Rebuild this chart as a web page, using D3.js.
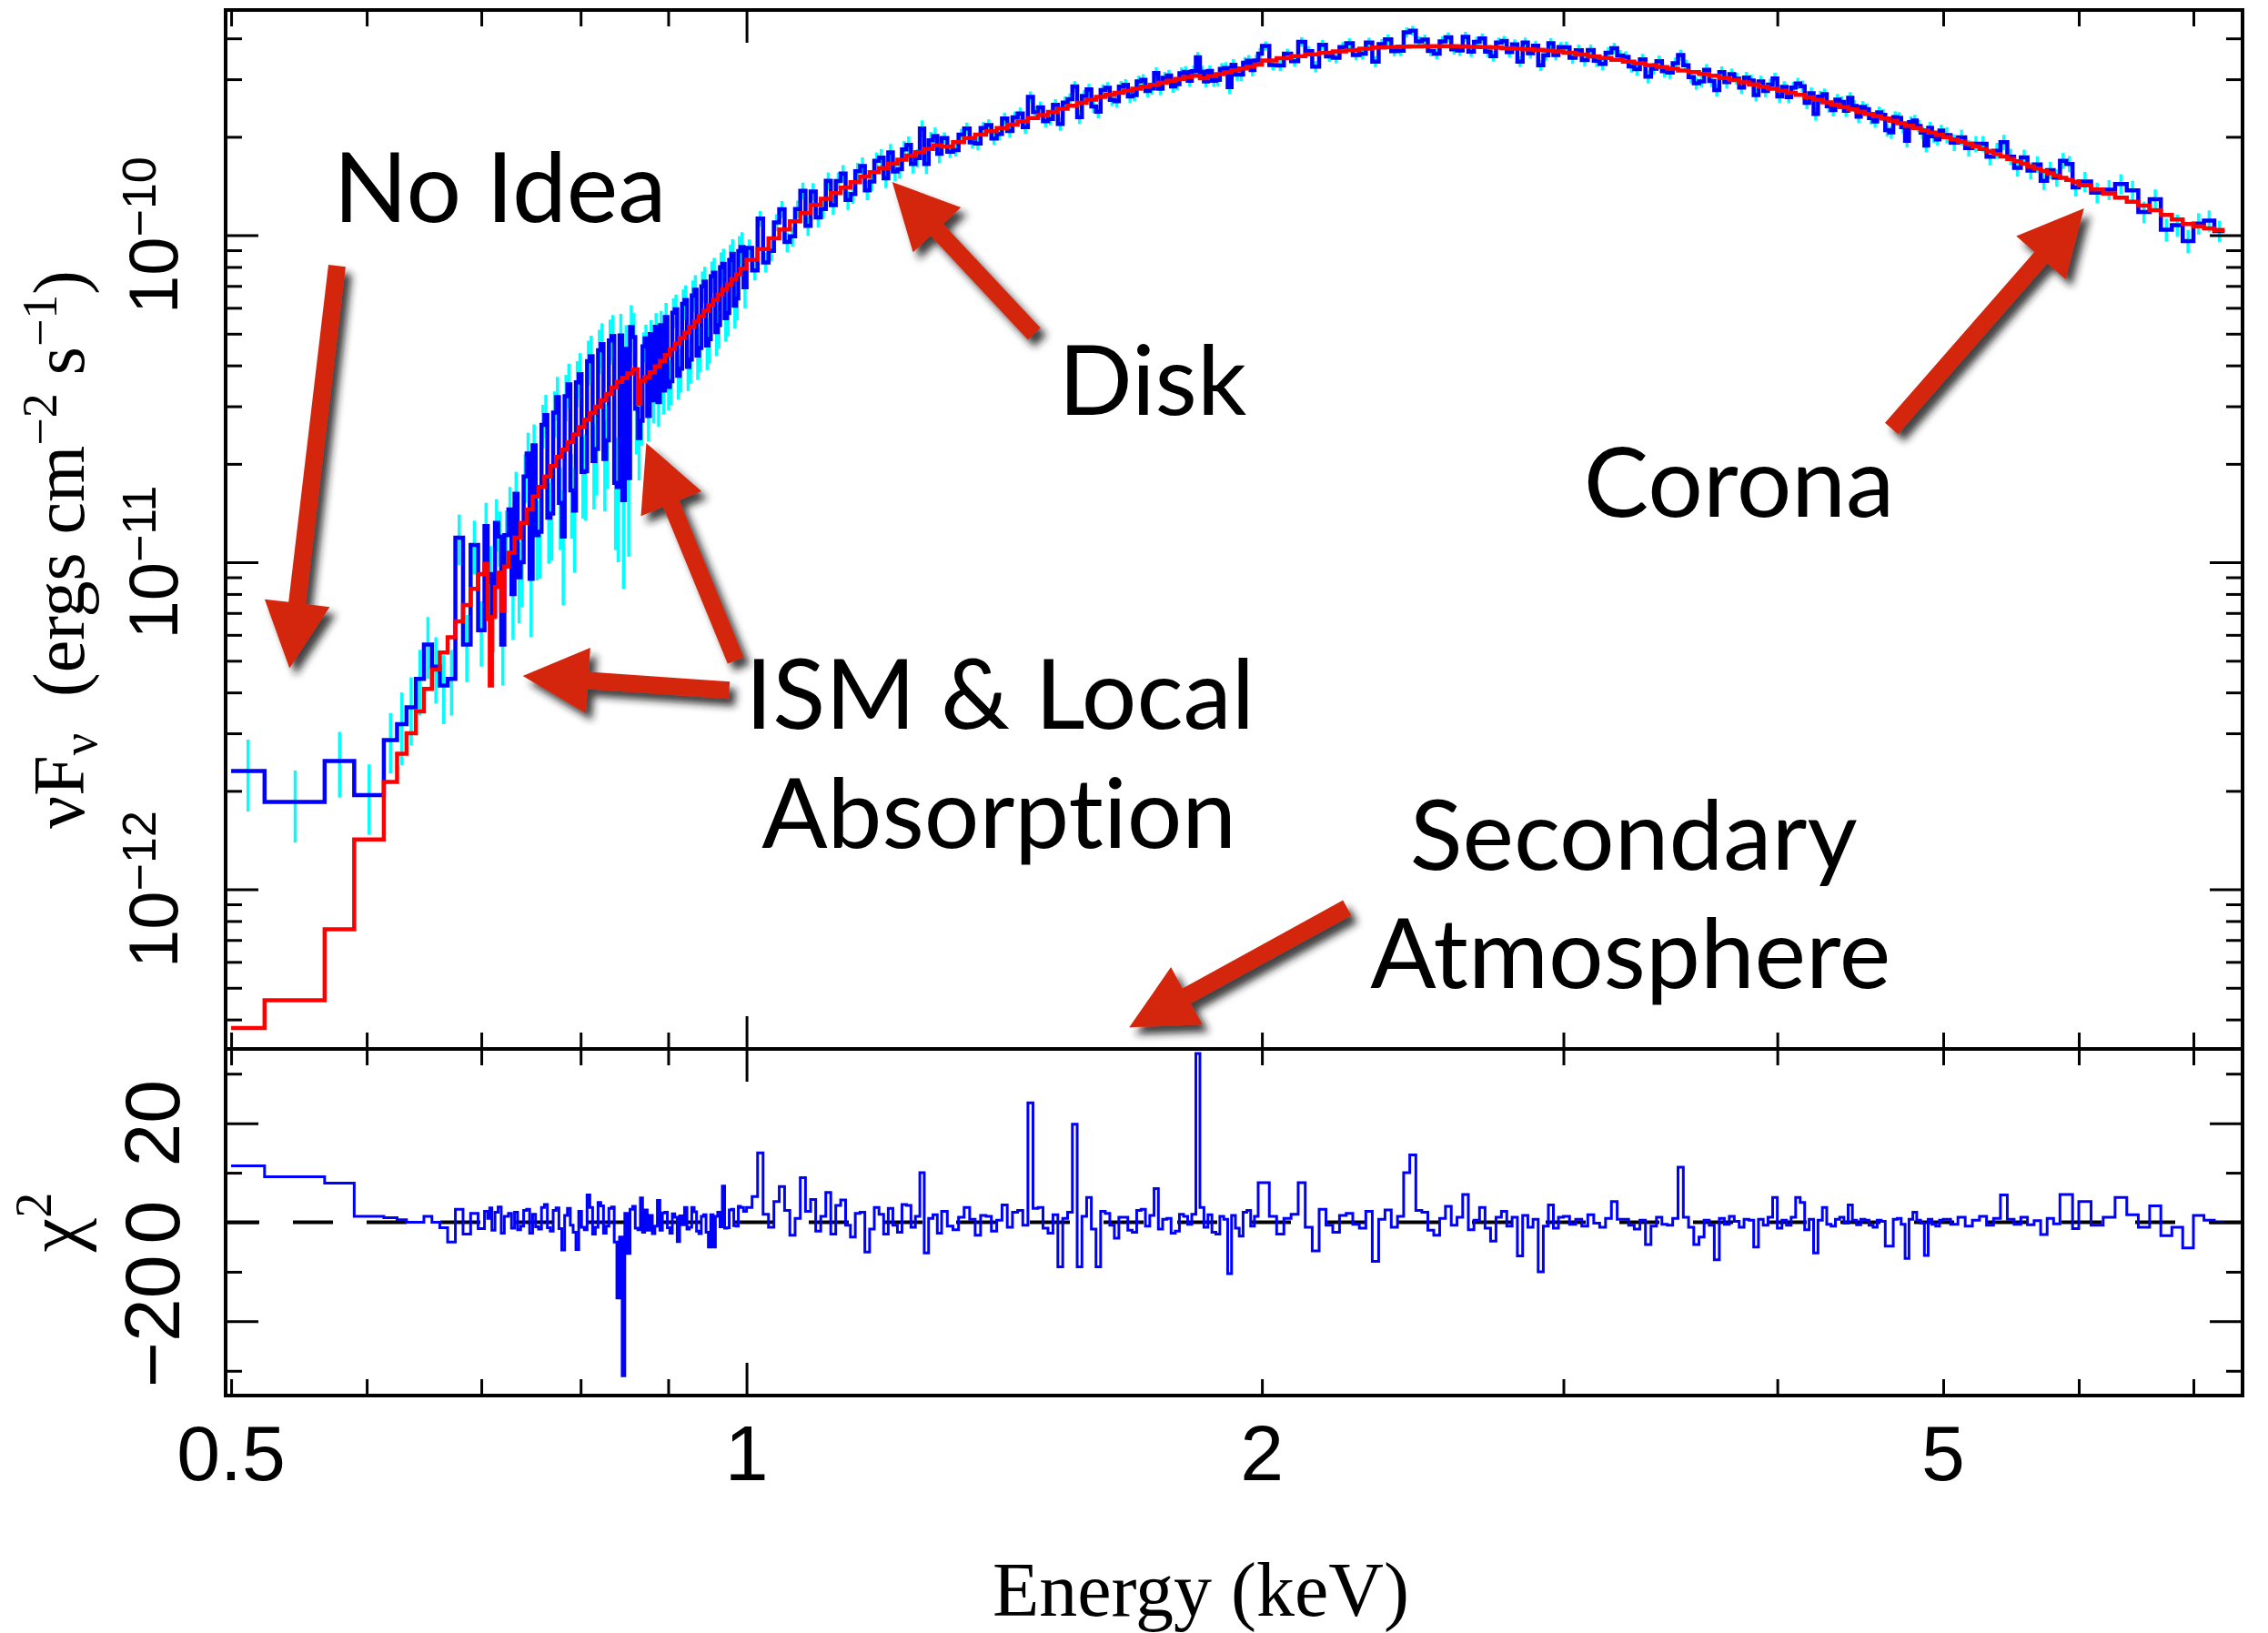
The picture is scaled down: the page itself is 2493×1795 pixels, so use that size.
<!DOCTYPE html>
<html>
<head>
<meta charset="utf-8">
<script src="https://cdn.jsdelivr.net/npm/d3@7"></script>
<style>
  html, body { margin: 0; padding: 0; background: #ffffff; }
  svg { display: block; }
</style>
</head>
<body>
<svg id="chart" width="2493" height="1795"></svg>
<script>
// ---------------------------------------------------------------------------
// Unfolded X-ray spectrum (nuFnu) with best-fit model and chi residuals.
// Flux values are in units of 1e-12 ergs cm^-2 s^-1, energies in keV.
// ---------------------------------------------------------------------------
const FLUX_UNIT = 1e-12;

// Model grid boundaries (keV)
const modelEdges = [
  0.500, 0.523, 0.567, 0.590, 0.614, 0.625,
  0.633, 0.641, 0.648, 0.655, 0.662, 0.669, 0.676, 0.683, 0.690, 0.697,
  0.703, 0.706, 0.708, 0.710, 0.713, 0.716, 0.719, 0.722, 0.726,
  0.732, 0.738, 0.744, 0.750, 0.756, 0.762, 0.768, 0.774, 0.780, 0.786,
  0.792, 0.798, 0.804, 0.810, 0.816, 0.822, 0.828, 0.834, 0.840, 0.846,
  0.852, 0.858, 0.864, 0.867, 0.872, 0.878, 0.884, 0.890, 0.896, 0.902,
  0.908, 0.914, 0.920, 0.926, 0.932, 0.938, 0.944, 0.950, 0.956, 0.962,
  0.968, 0.974, 0.980, 0.986, 0.992, 1.000,
  1.015, 1.030, 1.045, 1.060, 1.075, 1.090, 1.105, 1.120, 1.135, 1.150,
  1.165, 1.180, 1.195, 1.210, 1.225, 1.240, 1.255, 1.270, 1.285, 1.300,
  1.32, 1.34, 1.36, 1.38, 1.40, 1.42, 1.44, 1.46, 1.48, 1.50,
  1.52, 1.54, 1.56, 1.58, 1.60, 1.62, 1.64, 1.66, 1.68, 1.70,
  1.72, 1.74, 1.76, 1.78, 1.80, 1.82, 1.84, 1.86, 1.88, 1.90,
  1.92, 1.94, 1.96, 1.98, 2.00,
  2.04, 2.08, 2.12, 2.16, 2.20, 2.24, 2.28, 2.32, 2.36, 2.40,
  2.44, 2.48, 2.52, 2.56, 2.60, 2.64, 2.68, 2.72, 2.76, 2.80,
  2.84, 2.88, 2.92, 2.96, 3.00,
  3.05, 3.10, 3.15, 3.20, 3.25, 3.30, 3.35, 3.40, 3.45, 3.50,
  3.55, 3.60, 3.65, 3.70, 3.75, 3.80, 3.85, 3.90, 3.95, 4.00,
  4.05, 4.10, 4.15, 4.20, 4.25, 4.30, 4.35, 4.40, 4.45, 4.50,
  4.55, 4.60, 4.65, 4.70, 4.75, 4.80, 4.85, 4.90, 4.95, 5.00,
  5.05, 5.10, 5.15, 5.20, 5.25, 5.30, 5.35, 5.40, 5.45, 5.50,
  5.55, 5.60, 5.65, 5.70, 5.75, 5.80, 5.85, 5.90, 5.95, 6.00,
  6.1, 6.2, 6.3, 6.4, 6.5, 6.6, 6.7, 6.8, 6.9, 7.0,
  7.1, 7.2, 7.3
];

// Absorbed disk + corona model on the model grid
const modelFlux = [
  0.377, 0.458, 0.755, 1.42, 2.13,
  2.6, 3.0, 3.5, 4.1, 4.7, 5.3, 5.9, 6.6, 7.4, 8.3,
  9.2, 9.9, 6.7, 4.2, 6.8, 8.4, 9.3, 7.1, 9.7,
  10.7, 11.9, 13.2, 14.5, 15.9, 17.0, 18.3, 19.7, 21.0, 22.1,
  23.3, 24.6, 25.9, 27.3, 28.6, 29.9, 31.3, 32.7, 34.2, 35.6,
  36.6, 37.8, 38.9, 30.5, 35.9, 36.8, 38.1, 39.7, 41.3, 43.0,
  44.8, 46.6, 48.5, 50.4, 52.5, 54.5, 56.6, 58.8, 61.1, 63.4,
  65.8, 68.2, 70.7, 73.3, 75.9, 79.1,
  84.2, 90.8, 97.8, 104.1, 110.4, 116.9, 123.8, 129.3, 134.5, 139.9,
  145.4, 151.0, 155.9, 160.6, 165.4, 170.2, 175.2, 179.5, 183.6, 188.5,
  187.0, 192.6, 198.2, 203.0, 207.9, 212.9, 217.9, 223.0, 228.1, 233.2,
  238.4, 243.7, 249.0, 254.3, 259.7, 264.8, 268.8, 272.7, 276.7, 280.7,
  284.7, 288.6, 292.6, 296.7, 300.7, 304.7, 307.5, 302.1, 306.4, 310.7,
  315.0, 319.4, 323.7, 328.0, 332.4,
  342.5, 348.0, 353.0, 357.5, 361.5, 365.0, 368.5, 372.0, 375.0, 376.5,
  377.5, 378.0, 378.5, 378.5, 378.5, 378.0, 377.0, 376.0, 375.0, 373.5,
  372.0, 370.5, 369.0, 367.0, 365.0,
  361.6, 357.0, 352.5, 348.2, 343.9, 339.7, 335.3, 331.1, 327.0, 323.0,
  319.1, 315.3, 311.6, 307.5, 302.7, 298.1, 293.5, 289.1, 284.9, 280.7,
  276.6, 272.7, 268.6, 264.0, 259.4, 255.1, 250.8, 246.7, 242.7, 238.8,
  235.0, 231.3, 227.6, 223.8, 220.0, 216.3, 212.8, 209.3, 206.0, 202.7,
  199.5, 196.4, 193.4, 190.4, 187.1, 183.7, 180.5, 177.3, 174.2, 171.2,
  168.3, 165.4, 162.6, 159.9, 157.3, 154.7, 152.2, 149.9, 147.6, 145.4,
  142.2, 138.1, 134.1, 130.3, 126.7, 123.3, 119.3, 115.4, 111.7, 108.2,
  106.5, 105.0, 103.8
];

// Data channel boundaries (keV)
const dataEdges = [
  0.500, 0.523, 0.567, 0.590, 0.614, 0.625,
  0.633, 0.641, 0.648, 0.655, 0.662, 0.669, 0.676, 0.683, 0.690, 0.697,
  0.703, 0.706, 0.708, 0.710, 0.713, 0.716, 0.719, 0.722, 0.726,
  0.729, 0.732, 0.735, 0.738, 0.741, 0.744, 0.747, 0.750, 0.753, 0.756,
  0.759, 0.762, 0.765, 0.768, 0.771, 0.774, 0.777, 0.780, 0.783, 0.786,
  0.789, 0.792, 0.795, 0.798, 0.801, 0.804, 0.807, 0.810, 0.813, 0.816,
  0.819, 0.822, 0.825, 0.828, 0.831, 0.834, 0.837, 0.840, 0.843, 0.846,
  0.849, 0.852, 0.855, 0.858, 0.861, 0.864,
  0.867, 0.8695, 0.872,
  0.875, 0.878, 0.881, 0.884, 0.887, 0.890, 0.893, 0.896, 0.899, 0.902,
  0.905, 0.908, 0.911, 0.914, 0.917, 0.920, 0.923, 0.926, 0.929, 0.932,
  0.935, 0.938, 0.941, 0.944, 0.947, 0.950, 0.953, 0.956, 0.959, 0.962,
  0.965, 0.968, 0.971, 0.974, 0.977, 0.980, 0.983, 0.986, 0.989, 0.992,
  0.996, 1.000,
  1.0075, 1.015, 1.0225, 1.030, 1.0375, 1.045, 1.0525, 1.060, 1.0675, 1.075,
  1.0825, 1.090, 1.0975, 1.105, 1.1125, 1.120, 1.1275, 1.135, 1.1425, 1.150,
  1.1575, 1.165, 1.1725, 1.180, 1.1875, 1.195, 1.2025, 1.210, 1.2175, 1.225,
  1.2325, 1.240, 1.2475, 1.255, 1.2625, 1.270, 1.2775, 1.285, 1.2925, 1.300,
  1.31, 1.32, 1.33, 1.34, 1.35, 1.36, 1.37, 1.38, 1.39, 1.40,
  1.41, 1.42, 1.43, 1.44, 1.45, 1.46, 1.47, 1.48, 1.49, 1.50,
  1.51, 1.52, 1.53, 1.54, 1.55, 1.56, 1.57, 1.58, 1.59, 1.60,
  1.61, 1.62, 1.63, 1.64, 1.65, 1.66, 1.67, 1.68, 1.69, 1.70,
  1.71, 1.72, 1.73, 1.74, 1.75, 1.76, 1.77, 1.78, 1.79, 1.80,
  1.81, 1.82, 1.83, 1.84, 1.85, 1.86, 1.87, 1.88, 1.89, 1.90,
  1.91, 1.92, 1.93, 1.94, 1.95, 1.96, 1.97, 1.98, 1.99, 2.00,
  2.02, 2.04, 2.06, 2.08, 2.10, 2.12, 2.14, 2.16, 2.18, 2.20,
  2.22, 2.24, 2.26, 2.28, 2.30, 2.32, 2.34, 2.36, 2.38, 2.40,
  2.42, 2.44, 2.46, 2.48, 2.50, 2.52, 2.54, 2.56, 2.58, 2.60,
  2.62, 2.64, 2.66, 2.68, 2.70, 2.72, 2.74, 2.76, 2.78, 2.80,
  2.82, 2.84, 2.86, 2.88, 2.90, 2.92, 2.94, 2.96, 2.98, 3.00,
  3.025, 3.050, 3.075, 3.100, 3.125, 3.150, 3.175, 3.200, 3.225, 3.250,
  3.275, 3.300, 3.325, 3.350, 3.375, 3.400, 3.425, 3.450, 3.475, 3.500,
  3.525, 3.550, 3.575, 3.600, 3.625, 3.650, 3.675, 3.700, 3.725, 3.750,
  3.775, 3.800, 3.825, 3.850, 3.875, 3.900, 3.925, 3.950, 3.975, 4.000,
  4.025, 4.050, 4.075, 4.100, 4.125, 4.150, 4.175, 4.200, 4.225, 4.250,
  4.275, 4.300, 4.325, 4.350, 4.375, 4.400, 4.425, 4.450, 4.475, 4.500,
  4.525, 4.550, 4.575, 4.600, 4.625, 4.650, 4.675, 4.700, 4.725, 4.750,
  4.775, 4.800, 4.825, 4.850, 4.875, 4.900, 4.925, 4.950, 4.975, 5.000,
  5.05, 5.10, 5.15, 5.20, 5.25, 5.30, 5.35, 5.40, 5.45, 5.50,
  5.55, 5.60, 5.65, 5.70, 5.75, 5.80, 5.85, 5.90, 5.95, 6.00,
  6.1, 6.2, 6.3, 6.4, 6.5, 6.6, 6.7, 6.8, 6.9, 7.0,
  7.1, 7.2, 7.3
];

// Unfolded data per data channel
const dataFlux = [
  2.30, 1.85, 2.47, 1.94, 2.86,
  3.2, 3.6, 4.4, 5.6, 4.8, 4.2, 4.4, 11.9, 5.6, 11.3,
  6.2, 12.9, 8.7, 9.2, 6.9, 13.2, 12.0, 5.6, 12.1,
  14.5, 8.0, 16.2, 9.0, 10.0, 18.3, 21.5, 8.9, 22.8, 12.1,
  12.4, 26.3, 28.2, 13.7, 14.1, 28.7, 32.0, 15.2, 12.0, 32.2,
  35.0, 16.6, 14.4, 35.5, 37.6, 18.9, 19.0, 41.2, 42.7, 20.4,
  22.2, 44.5, 46.5, 20.7, 23.6, 47.7, 49.2, 17.5, 17.0, 49.4,
  15.5, 44.9, 18.1, 52.4, 48.8, 29.5,
  24.0, 27.1, 45.7,
  48.4, 28.0, 49.9, 31.3, 52.5, 30.9, 53.1, 33.5, 56.2, 34.4,
  35.8, 58.0, 59.4, 37.2, 39.1, 61.7, 63.4, 39.6, 41.7, 65.5,
  68.1, 42.9, 45.2, 69.8, 72.2, 46.0, 48.1, 74.9, 76.8, 50.6,
  53.2, 79.8, 81.8, 55.8, 57.9, 84.1, 87.7, 60.9, 64.1, 89.5,
  92.1, 69.3,
  91.5, 78.1, 112.4, 82.6, 89.6, 109.4, 120.1, 95.4, 99.2, 120.3,
  136.8, 106.9, 136.0, 113.3, 120.3, 146.8, 123.6, 146.6, 154.5, 128.2,
  133.8, 157.0, 162.9, 137.2, 146.0, 168.8, 172.8, 149.4, 179.2, 156.7,
  159.3, 183.1, 189.0, 165.3, 172.2, 212.0, 165.2, 195.2, 201.1, 177.6,
  198.2, 180.0, 182.2, 203.0, 212.2, 192.4, 190.8, 212.9, 217.1, 197.5,
  204.1, 227.5, 208.2, 229.2, 235.8, 214.0, 265.0, 237.8, 246.3, 223.1,
  226.9, 250.3, 219.0, 254.7, 260.9, 285.0, 229.6, 266.7, 279.1, 247.6,
  238.9, 277.8, 282.3, 259.6, 257.0, 284.6, 288.2, 265.7, 268.3, 295.5,
  298.7, 276.2, 281.0, 313.6, 280.7, 303.0, 308.0, 285.0, 289.7, 312.8,
  316.0, 297.0, 317.4, 350.0, 316.7, 295.4, 317.9, 297.0, 298.5, 322.8,
  324.9, 283.9, 332.0, 310.0, 309.8, 336.8, 341.7, 319.9, 342.1, 359.4,
  379.1, 331.6, 330.2, 359.2, 340.4, 390.4, 365.8, 327.8, 382.4, 352.2,
  348.7, 376.1, 386.4, 355.8, 358.9, 388.2, 339.5, 384.2, 397.1, 365.8,
  366.5, 417.5, 422.2, 391.6, 396.4, 366.0, 359.0, 391.8, 403.2, 370.2,
  367.0, 404.5, 364.4, 390.3, 399.8, 364.1, 352.9, 388.3, 393.1, 363.3,
  383.2, 339.7, 388.4, 360.3, 379.7, 330.8, 355.1, 386.7, 355.7, 376.2,
  375.9, 349.0, 368.1, 343.4, 368.3, 341.5, 334.4, 361.3, 373.0, 354.3,
  350.9, 328.3, 321.9, 344.8, 305.4, 323.3, 340.6, 317.7, 314.2, 335.9,
  355.5, 330.8, 304.6, 291.7, 295.5, 320.6, 296.5, 277.8, 315.6, 293.9,
  310.9, 301.3, 282.8, 303.5, 297.4, 268.4, 295.3, 276.2, 288.9, 301.8,
  265.7, 284.1, 264.7, 282.7, 291.4, 285.8, 254.0, 271.7, 234.9, 265.5,
  269.9, 248.1, 241.3, 259.8, 255.7, 240.4, 263.3, 248.5, 230.6, 246.8,
  242.8, 228.2, 223.0, 237.6, 233.4, 209.6, 206.5, 229.6, 228.5, 214.1,
  194.4, 221.7, 224.2, 215.9, 206.1, 188.1, 213.1, 200.7, 196.4, 209.0,
  202.5, 192.1, 199.3, 184.7, 190.4, 190.6, 173.8, 181.4, 192.5, 173.8,
  160.8, 172.9, 157.7, 164.7, 146.7, 158.2, 150.0, 169.0, 165.3, 140.0,
  146.0, 135.0, 137.8, 143.5, 137.2, 117.8, 128.9, 104.0, 107.3, 96.0,
  108.6, 110.8, 103.0
];

// 1-sigma uncertainty per data channel
const dataErr = [
  0.57, 0.46, 0.56, 0.47, 0.60,
  0.8, 0.85, 1.0, 1.2, 1.1, 1.0, 1.0, 2.1, 1.3, 2.1,
  1.4, 2.3, 1.9, 2.0, 1.6, 2.4, 2.3, 1.4, 2.3,
  2.5, 2.2, 2.7, 2.5, 2.7, 3.1, 3.4, 3.0, 3.6, 3.3,
  3.5, 4.0, 4.3, 3.8, 4.0, 4.6, 4.9, 4.3, 4.6, 5.2,
  5.5, 4.8, 5.1, 5.7, 6.0, 5.3, 5.6, 6.4, 6.6, 5.9,
  6.2, 6.9, 7.3, 6.4, 6.8, 7.5, 7.8, 6.6, 7.0, 8.1,
  7.2, 8.2, 7.7, 8.7, 9.0, 8.1,
  6.2, 4.4, 4.8,
  4.9, 4.6, 5.1, 4.7, 5.3, 4.9, 5.6, 5.2, 5.9, 5.3,
  5.6, 6.1, 6.4, 5.7, 6.0, 6.6, 6.9, 6.2, 6.5, 7.2,
  7.4, 6.8, 7.0, 7.7, 7.9, 7.3, 7.5, 8.2, 8.5, 7.8,
  8.1, 8.8, 9.1, 8.5, 8.7, 9.4, 9.6, 9.0, 9.2, 9.9,
  10.1, 9.5,
  5.6, 5.3, 6.2, 5.7, 6.2, 6.6, 7.2, 6.5, 6.8, 7.4,
  8.1, 7.3, 8.3, 7.7, 7.9, 8.8, 8.3, 9.0, 9.4, 8.6,
  9.0, 9.6, 10.0, 9.2, 9.6, 10.4, 10.7, 9.9, 10.9, 10.3,
  10.4, 11.2, 11.6, 10.8, 11.2, 12.5, 11.1, 12.0, 12.4, 11.6,
  8.1, 7.8, 8.3, 8.5, 8.8, 8.4, 8.7, 9.1, 9.2, 8.8,
  9.1, 9.5, 9.4, 9.8, 9.9, 9.5, 10.4, 9.9, 10.2, 9.9,
  10.1, 10.5, 10.4, 10.8, 10.6, 11.2, 10.9, 11.2, 11.3, 11.1,
  11.2, 11.6, 11.6, 11.3, 11.5, 11.9, 11.9, 11.6, 11.8, 12.2,
  12.3, 11.9, 12.2, 12.6, 12.5, 12.7, 12.7, 12.5, 12.6, 13.0,
  13.0, 12.7, 13.2, 13.4, 12.9, 12.7, 13.2, 12.9, 13.0, 13.4,
  13.4, 13.2, 13.7, 13.4, 13.6, 13.9, 14.0, 13.7, 14.1, 14.4,
  12.5, 12.3, 12.6, 12.7, 12.9, 13.2, 13.0, 12.9, 13.4, 13.2,
  13.2, 13.4, 13.7, 13.3, 13.4, 13.9, 13.4, 13.7, 14.1, 13.6,
  13.7, 14.4, 14.6, 14.0, 14.1, 13.7, 13.6, 14.1, 14.3, 13.7,
  13.7, 14.4, 13.6, 14.0, 14.3, 13.6, 13.3, 13.9, 14.0, 13.4,
  13.9, 13.0, 13.9, 13.4, 13.7, 12.9, 13.2, 13.7, 13.2, 13.6,
  15.1, 14.8, 15.0, 14.7, 14.8, 14.6, 14.4, 14.7, 14.6, 14.3,
  14.3, 14.0, 13.9, 14.1, 13.7, 13.9, 13.9, 13.6, 13.4, 13.7,
  13.9, 13.4, 13.2, 13.0, 12.9, 13.2, 12.9, 12.6, 12.7, 12.6,
  12.6, 12.5, 12.3, 12.5, 12.3, 11.9, 12.2, 11.9, 11.9, 12.0,
  11.6, 11.8, 11.5, 11.6, 11.6, 11.5, 11.2, 11.3, 10.9, 11.2,
  11.1, 10.8, 10.6, 10.8, 10.6, 10.4, 10.6, 10.4, 10.2, 10.4,
  10.2, 9.9, 9.8, 9.9, 9.8, 9.5, 9.4, 9.7, 9.5, 9.4,
  9.0, 9.4, 9.2, 9.1, 9.0, 8.7, 9.0, 8.8, 8.7, 8.8,
  11.4, 11.2, 11.0, 10.8, 10.7, 10.6, 10.3, 10.2, 10.3, 10.0,
  9.7, 9.8, 9.5, 9.6, 9.1, 9.4, 9.1, 9.5, 9.4, 8.6,
  10.3, 9.8, 9.7, 10.1, 9.6, 8.9, 9.2, 8.4, 8.4, 7.9,
  8.2, 8.3, 7.8
];

// Fit residuals per data channel
const chiResid = [
  11.4, 9.2, 7.9, 1.2, 0.9,
  0.5, 0.0, 0.0, 1.2, 0.0, -1.1, -4.0, 2.6, -2.4, 1.8,
  -1.3, 2.2, 0.8, 2.9, -1.6, 2.0, 3.1, -2.2, 1.2,
  1.8, -1.2, 2.0, -1.5, -0.8, 2.4, 2.6, -2.2, 1.6, -0.9,
  -1.4, 3.0, 3.6, -1.1, -1.8, 2.4, 2.9, -1.3, -5.6, 1.4,
  2.8, -0.6, -2.0, -5.5, 2.2, -1.0, -1.5, 5.5, 3.0, -2.4,
  -1.0, 4.0, 3.3, -2.2, -0.8, 2.8, 3.1, -4.0, -15.3, -3.0,
  -31.0, 1.8, -6.3, 2.6, 3.2, -1.2,
  -1.5, 4.9, -2.0,
  2.5, -1.6, 1.4, -2.3, -0.8, 4.4, -1.6, 1.9, 2.0, -1.1,
  -2.2, 1.7, 1.0, -3.9, 1.3, -0.5, 3.0, -1.4, -1.0, 3.0,
  2.1, -1.8, -2.3, 1.2, 1.5, -2.0, -5.0, 1.5, -5.0, 1.2,
  2.0, -0.9, 7.3, -1.2, -1.1, 2.5, 2.6, -0.7, -0.8, 3.2,
  3.0, 2.2,
  3.0, 5.2, 14.0, 1.6, -1.0, 4.2, 7.2, 2.4, -2.6, 0.8,
  9.0, 2.2, 4.6, -1.8, 1.2, 6.0, -2.4, 3.4, 4.5, -0.6,
  -3.0, 1.8, 2.0, -6.0, -1.4, 3.0, 1.6, -2.4, 2.8, -0.6,
  -2.0, 3.6, 3.4, -1.0, 1.2, 10.0, -6.2, 0.8, 1.5, -2.2,
  2.2, -0.8, -1.5, 1.0, 3.0, 0.6, -2.6, 1.4, 1.2, -1.8,
  0.4, 3.5, -1.0, 2.0, 2.4, -0.6, 24.1, 2.8, 3.0, -1.2,
  -2.2, 1.5, -9.0, 0.8, 2.0, 19.8, -9.0, 1.2, 5.0, -1.4,
  -9.0, 2.2, 1.8, -0.6, -3.2, 1.0, 1.0, -1.6, -2.0, 2.4,
  2.6, -0.8, 1.4, 6.8, -1.4, 0.6, 0.8, -2.2, -1.8, 1.6,
  1.2, -0.4, 1.6, 34.1, 3.0, -1.0, 1.5, -2.0, -2.4, 1.2,
  0.6, -10.4, 1.4, -1.2, -2.8, 2.0, 2.4, -0.8, 1.2, 8.0,
  8.0, 1.2, -2.4, 0.8, 1.6, 8.0, -1.0, -5.8, 2.6, -0.6,
  -2.0, 1.4, 1.8, -0.4, -1.2, 2.2, -7.9, 0.6, 2.5, -1.0,
  1.2, 10.0, 13.6, 2.4, 2.0, -1.6, -2.6, 0.8, 3.2, -0.6,
  1.0, 5.6, -1.5, 0.4, 3.0, -1.2, -3.8, 1.0, 2.2, -0.8,
  1.0, -6.8, 1.4, -1.0, 0.6, -10.0, -0.8, 3.5, -1.2, 1.0,
  1.2, -0.4, 0.6, -0.8, 1.5, -0.2, -1.0, 0.8, 4.2, 0.6,
  0.6, -0.6, -1.4, 0.4, -4.5, -0.8, 1.0, -0.4, -0.6, 0.8,
  11.1, 1.0, -1.0, -4.5, -3.0, 0.4, -0.6, -7.6, 0.8, -0.4,
  1.2, 0.2, -1.0, 0.6, 0.4, -5.0, 0.6, -0.6, 1.0, 5.0,
  -1.2, 0.4, -0.6, 1.0, 5.0, 4.0, -1.5, 0.6, -6.2, 0.4,
  3.0, -0.4, -0.8, 0.6, 1.0, -0.2, 3.5, 0.4, -0.5, 0.6,
  0.4, -0.6, -1.0, 0.4, 0.2, -4.8, -4.8, 0.6, 0.8, -0.4,
  -7.3, 0.6, 2.0, 0.4, -0.2, -6.7, 0.6, -0.4, -0.8, 0.4,
  0.6, -0.4, 1.0, -0.8, 0.4, 1.2, -0.6, 0.8, 5.5, 0.6,
  -0.4, 1.0, -0.5, 0.3, -2.5, 0.8, -0.3, 5.6, 5.6, -1.3,
  4.2, -0.6, 1.0, 5.0, 1.5, -1.0, 3.3, -2.7, -1.0, -5.2,
  1.4, 0.4, 0.0
];

// Tick labels
const energyTickLabels = [0.5, 1, 2, 5];
const fluxTickExponents = [-12, -11, -10];
const chiTickLabels = [-20, 0, 20];
const chiMinorTicks = [-30, -10, 10, 30];

// Callouts: [text, energy (keV), flux (1e-12 cgs), anchor]
const calloutText = [
  ["No Idea", 0.5737, 109.8, "start"],
  ["Disk", 1.5215, 28.24, "start"],
  ["Corona", 3.0832, 13.79, "start"],
  ["ISM & Local", 1.4061, 3.099, "middle"],
  ["Absorption", 1.4044, 1.3392, "middle"],
  ["Secondary", 3.2970, 1.1483, "middle"],
  ["Atmosphere", 3.2837, 0.4995, "middle"]
];
// Callout arrows: [tail energy, tail flux, tip energy, tip flux]
const calloutArrows = [
  [0.5765, 80.7, 0.5408, 4.746],
  [0.9770, 4.061, 0.7401, 4.494],
  [0.9854, 5.011, 0.8739, 23.15],
  [1.4724, 49.94, 1.2164, 145.5],
  [4.6639, 25.66, 6.0425, 120.9],
  [2.2427, 0.8776, 1.6731, 0.3783]
];

// ---------------------------------------------------------------------------
const nModel = modelEdges.length - 1;
const nData = dataEdges.length - 1;
if (modelFlux.length !== nModel) throw new Error("modelFlux has " + modelFlux.length + ", expected " + nModel);
[["dataFlux", dataFlux], ["dataErr", dataErr], ["chiResid", chiResid]].forEach(([name, arr]) => {
  if (arr.length !== nData) throw new Error(name + " has " + arr.length + " values, expected " + nData);
});

const frame = { left: 248, right: 2465, top: 11, mid: 1153, bottom: 1534 };

const x = d3.scaleLog().domain([0.4963, 7.478]).range([frame.left, frame.right]);
const yFlux = d3.scaleLog().domain([3.251e-13, 4.884e-10]).range([frame.mid, frame.top]);
const yChi = d3.scaleLinear().domain([-35, 35]).range([frame.bottom, frame.mid]);

const svg = d3.select("#chart");
svg.append("rect").attr("width", 2493).attr("height", 1795).attr("fill", "#ffffff");

const defs = svg.append("defs");
defs.append("clipPath").attr("id", "clipTop").append("rect")
  .attr("x", frame.left).attr("y", frame.top)
  .attr("width", frame.right - frame.left).attr("height", frame.mid - frame.top);
defs.append("clipPath").attr("id", "clipBottom").append("rect")
  .attr("x", frame.left).attr("y", frame.mid)
  .attr("width", frame.right - frame.left).attr("height", frame.bottom - frame.mid);

const shadow = defs.append("filter").attr("id", "arrowShadow")
  .attr("filterUnits", "userSpaceOnUse")
  .attr("x", 0).attr("y", 0).attr("width", 2493).attr("height", 1795);
shadow.append("feGaussianBlur").attr("in", "SourceAlpha").attr("stdDeviation", 4).attr("result", "blur");
shadow.append("feOffset").attr("in", "blur").attr("dx", 7).attr("dy", 8).attr("result", "offsetBlur");
shadow.append("feFlood").attr("flood-color", "#1e1e1e").attr("flood-opacity", 0.85).attr("result", "shade");
shadow.append("feComposite").attr("in", "shade").attr("in2", "offsetBlur").attr("operator", "in").attr("result", "castShadow");
const merge = shadow.append("feMerge");
merge.append("feMergeNode").attr("in", "castShadow");
merge.append("feMergeNode").attr("in", "SourceGraphic");

// Histogram helpers
const stepPairs = (edges, values) => values.flatMap((v, i) => [[edges[i], v], [edges[i + 1], v]]);
const dataCenter = i => (dataEdges[i] + dataEdges[i + 1]) / 2;
const fluxLine = d3.line().x(d => x(d[0])).y(d => yFlux(d[1] * FLUX_UNIT));
const chiLine = d3.line().x(d => x(d[0])).y(d => yChi(d[1]));

// ---- Spectrum panel ----
const gTop = svg.append("g").attr("clip-path", "url(#clipTop)");
gTop.append("g").selectAll("line").data(dataFlux).join("line")
  .attr("x1", (d, i) => x(dataCenter(i)))
  .attr("x2", (d, i) => x(dataCenter(i)))
  .attr("y1", (d, i) => yFlux((d - dataErr[i]) * FLUX_UNIT))
  .attr("y2", (d, i) => yFlux((d + dataErr[i]) * FLUX_UNIT))
  .attr("stroke", "#00ffff").attr("stroke-width", 3.5);
gTop.append("path").attr("d", fluxLine(stepPairs(dataEdges, dataFlux)))
  .attr("fill", "none").attr("stroke", "#0000ff").attr("stroke-width", 4.5);
gTop.append("path").attr("d", fluxLine(stepPairs(modelEdges, modelFlux)))
  .attr("fill", "none").attr("stroke", "#ff0000").attr("stroke-width", 4.5);

// ---- Residual panel ----
const gBot = svg.append("g").attr("clip-path", "url(#clipBottom)");
gBot.append("line")
  .attr("x1", frame.left).attr("x2", frame.right)
  .attr("y1", yChi(0)).attr("y2", yChi(0))
  .attr("stroke", "#000").attr("stroke-width", 4)
  .attr("stroke-dasharray", "44,37").attr("stroke-dashoffset", 7);
gBot.append("path").attr("d", chiLine(stepPairs(dataEdges, chiResid)))
  .attr("fill", "none").attr("stroke", "#0000ff").attr("stroke-width", 3);

// ---- Frames and ticks ----
const MAJOR = 36, MINOR = 18;
function ticks(axisFn, scale, values, size, tx, ty) {
  const g = svg.append("g").attr("transform", `translate(${tx},${ty})`)
    .call(axisFn(scale).tickValues(values).tickSize(size).tickFormat(""));
  g.select(".domain").remove();
  g.selectAll(".tick line").attr("stroke", "#000").attr("stroke-width", 3);
}
const isDecade = v => Math.abs(Math.log10(v) - Math.round(Math.log10(v))) < 1e-9;
const eTicks = x.ticks();
const eMajor = eTicks.filter(isDecade);
const eMinor = eTicks.filter(v => !isDecade(v));
const fTicks = yFlux.ticks();
const fMajor = fTicks.filter(isDecade);
const fMinor = fTicks.filter(v => !isDecade(v));

[[eMajor, MAJOR], [eMinor, MINOR]].forEach(([vals, len]) => {
  ticks(d3.axisTop, x, vals, -len, 0, frame.top);
  ticks(d3.axisBottom, x, vals, -len, 0, frame.mid);
  ticks(d3.axisTop, x, vals, -len, 0, frame.mid);
  ticks(d3.axisBottom, x, vals, -len, 0, frame.bottom);
});
[[fMajor, MAJOR], [fMinor, MINOR]].forEach(([vals, len]) => {
  ticks(d3.axisLeft, yFlux, vals, -len, frame.left, 0);
  ticks(d3.axisRight, yFlux, vals, -len, frame.right, 0);
});
[[chiTickLabels, MAJOR], [chiMinorTicks, MINOR]].forEach(([vals, len]) => {
  ticks(d3.axisLeft, yChi, vals, -len, frame.left, 0);
  ticks(d3.axisRight, yChi, vals, -len, frame.right, 0);
});

svg.append("rect")
  .attr("x", frame.left).attr("y", frame.top)
  .attr("width", frame.right - frame.left).attr("height", frame.bottom - frame.top)
  .attr("fill", "none").attr("stroke", "#000").attr("stroke-width", 4);
svg.append("line")
  .attr("x1", frame.left).attr("x2", frame.right)
  .attr("y1", frame.mid).attr("y2", frame.mid)
  .attr("stroke", "#000").attr("stroke-width", 4);

// ---- Tick labels ----
const SANS = "'Liberation Sans', Arial, Helvetica, sans-serif";
const SERIF = "'Liberation Serif', 'Times New Roman', Times, serif";

svg.append("g").selectAll("text").data(energyTickLabels).join("text")
  .attr("x", d => x(d)).attr("y", 1627)
  .attr("text-anchor", "middle")
  .attr("font-family", SANS).attr("font-size", 86).attr("fill", "#000")
  .text(d => String(d));

const fluxLabels = svg.append("g").selectAll("text").data(fluxTickExponents).join("text")
  .attr("transform", d => `translate(195,${yFlux(Math.pow(10, d))}) rotate(-90)`)
  .attr("text-anchor", "middle")
  .attr("font-family", SANS).attr("font-size", 76).attr("fill", "#000");
fluxLabels.append("tspan").text("10");
fluxLabels.append("tspan").attr("dy", -24).attr("font-size", 52).text(d => "\u2212" + Math.abs(d));

svg.append("g").selectAll("text").data(chiTickLabels).join("text")
  .attr("transform", d => `translate(197,${yChi(d)}) rotate(-90)`)
  .attr("text-anchor", "middle")
  .attr("font-family", SANS).attr("font-size", 86).attr("fill", "#000")
  .text(d => (d < 0 ? "\u2212" : "") + Math.abs(d));

// ---- Axis titles ----
const yTitle = svg.append("text")
  .attr("transform", "translate(92,604) rotate(-90)")
  .attr("text-anchor", "middle")
  .attr("font-family", SERIF).attr("font-size", 80).attr("fill", "#000");
yTitle.append("tspan").text("\u03bdF");
yTitle.append("tspan").attr("dy", 14).attr("font-size", 54).text("\u03bd");
yTitle.append("tspan").attr("dy", -14).text("\u00a0\u00a0(ergs cm");
yTitle.append("tspan").attr("dy", -30).attr("font-size", 54).text("\u22122");
yTitle.append("tspan").attr("dy", 30).text("\u00a0s");
yTitle.append("tspan").attr("dy", -30).attr("font-size", 54).text("\u22121");
yTitle.append("tspan").attr("dy", 30).text(")");

const chiTitle = svg.append("text")
  .attr("transform", `translate(88,${yChi(0)}) rotate(-90)`)
  .attr("text-anchor", "middle")
  .attr("font-family", SERIF).attr("font-size", 84).attr("fill", "#000");
chiTitle.append("tspan").text("\u03c7");
chiTitle.append("tspan").attr("dy", -32).attr("font-size", 56).text("2");

svg.append("text")
  .attr("x", 1320).attr("y", 1776)
  .attr("text-anchor", "middle")
  .attr("font-family", SERIF).attr("font-size", 84).attr("fill", "#000")
  .text("Energy (keV)");

// ---- Callouts ----
const ARROW = { shaft: 19, headLength: 72, headHalfWidth: 36 };
function arrowOutline(tail, tip) {
  const dx = tip[0] - tail[0], dy = tip[1] - tail[1];
  const len = Math.hypot(dx, dy);
  const ux = dx / len, uy = dy / len, nx = -uy, ny = ux;
  const bx = tip[0] - ux * ARROW.headLength, by = tip[1] - uy * ARROW.headLength;
  const s = ARROW.shaft / 2, h = ARROW.headHalfWidth;
  return [
    [tail[0] + nx * s, tail[1] + ny * s],
    [bx + nx * s, by + ny * s],
    [bx + nx * h, by + ny * h],
    tip,
    [bx - nx * h, by - ny * h],
    [bx - nx * s, by - ny * s],
    [tail[0] - nx * s, tail[1] - ny * s]
  ];
}
const gArrows = svg.append("g").attr("filter", "url(#arrowShadow)");
gArrows.selectAll("path").data(calloutArrows).join("path")
  .attr("d", d => {
    const tail = [x(d[0]), yFlux(d[1] * FLUX_UNIT)];
    const tip = [x(d[2]), yFlux(d[3] * FLUX_UNIT)];
    return "M" + arrowOutline(tail, tip).map(p => p[0].toFixed(1) + "," + p[1].toFixed(1)).join("L") + "Z";
  })
  .attr("fill", "#d4270f");

svg.append("g").selectAll("text").data(calloutText).join("text")
  .attr("x", d => x(d[1]))
  .attr("y", d => yFlux(d[2] * FLUX_UNIT))
  .attr("text-anchor", d => d[3])
  .attr("font-family", "'Gill Sans', 'Gill Sans MT', Lato, 'Open Sans', sans-serif")
  .attr("font-size", 107).attr("fill", "#000")
  .style("font-variant-ligatures", "none")
  .style("font-feature-settings", "'liga' 0, 'clig' 0")
  .text(d => d[0]);
</script>
</body>
</html>
